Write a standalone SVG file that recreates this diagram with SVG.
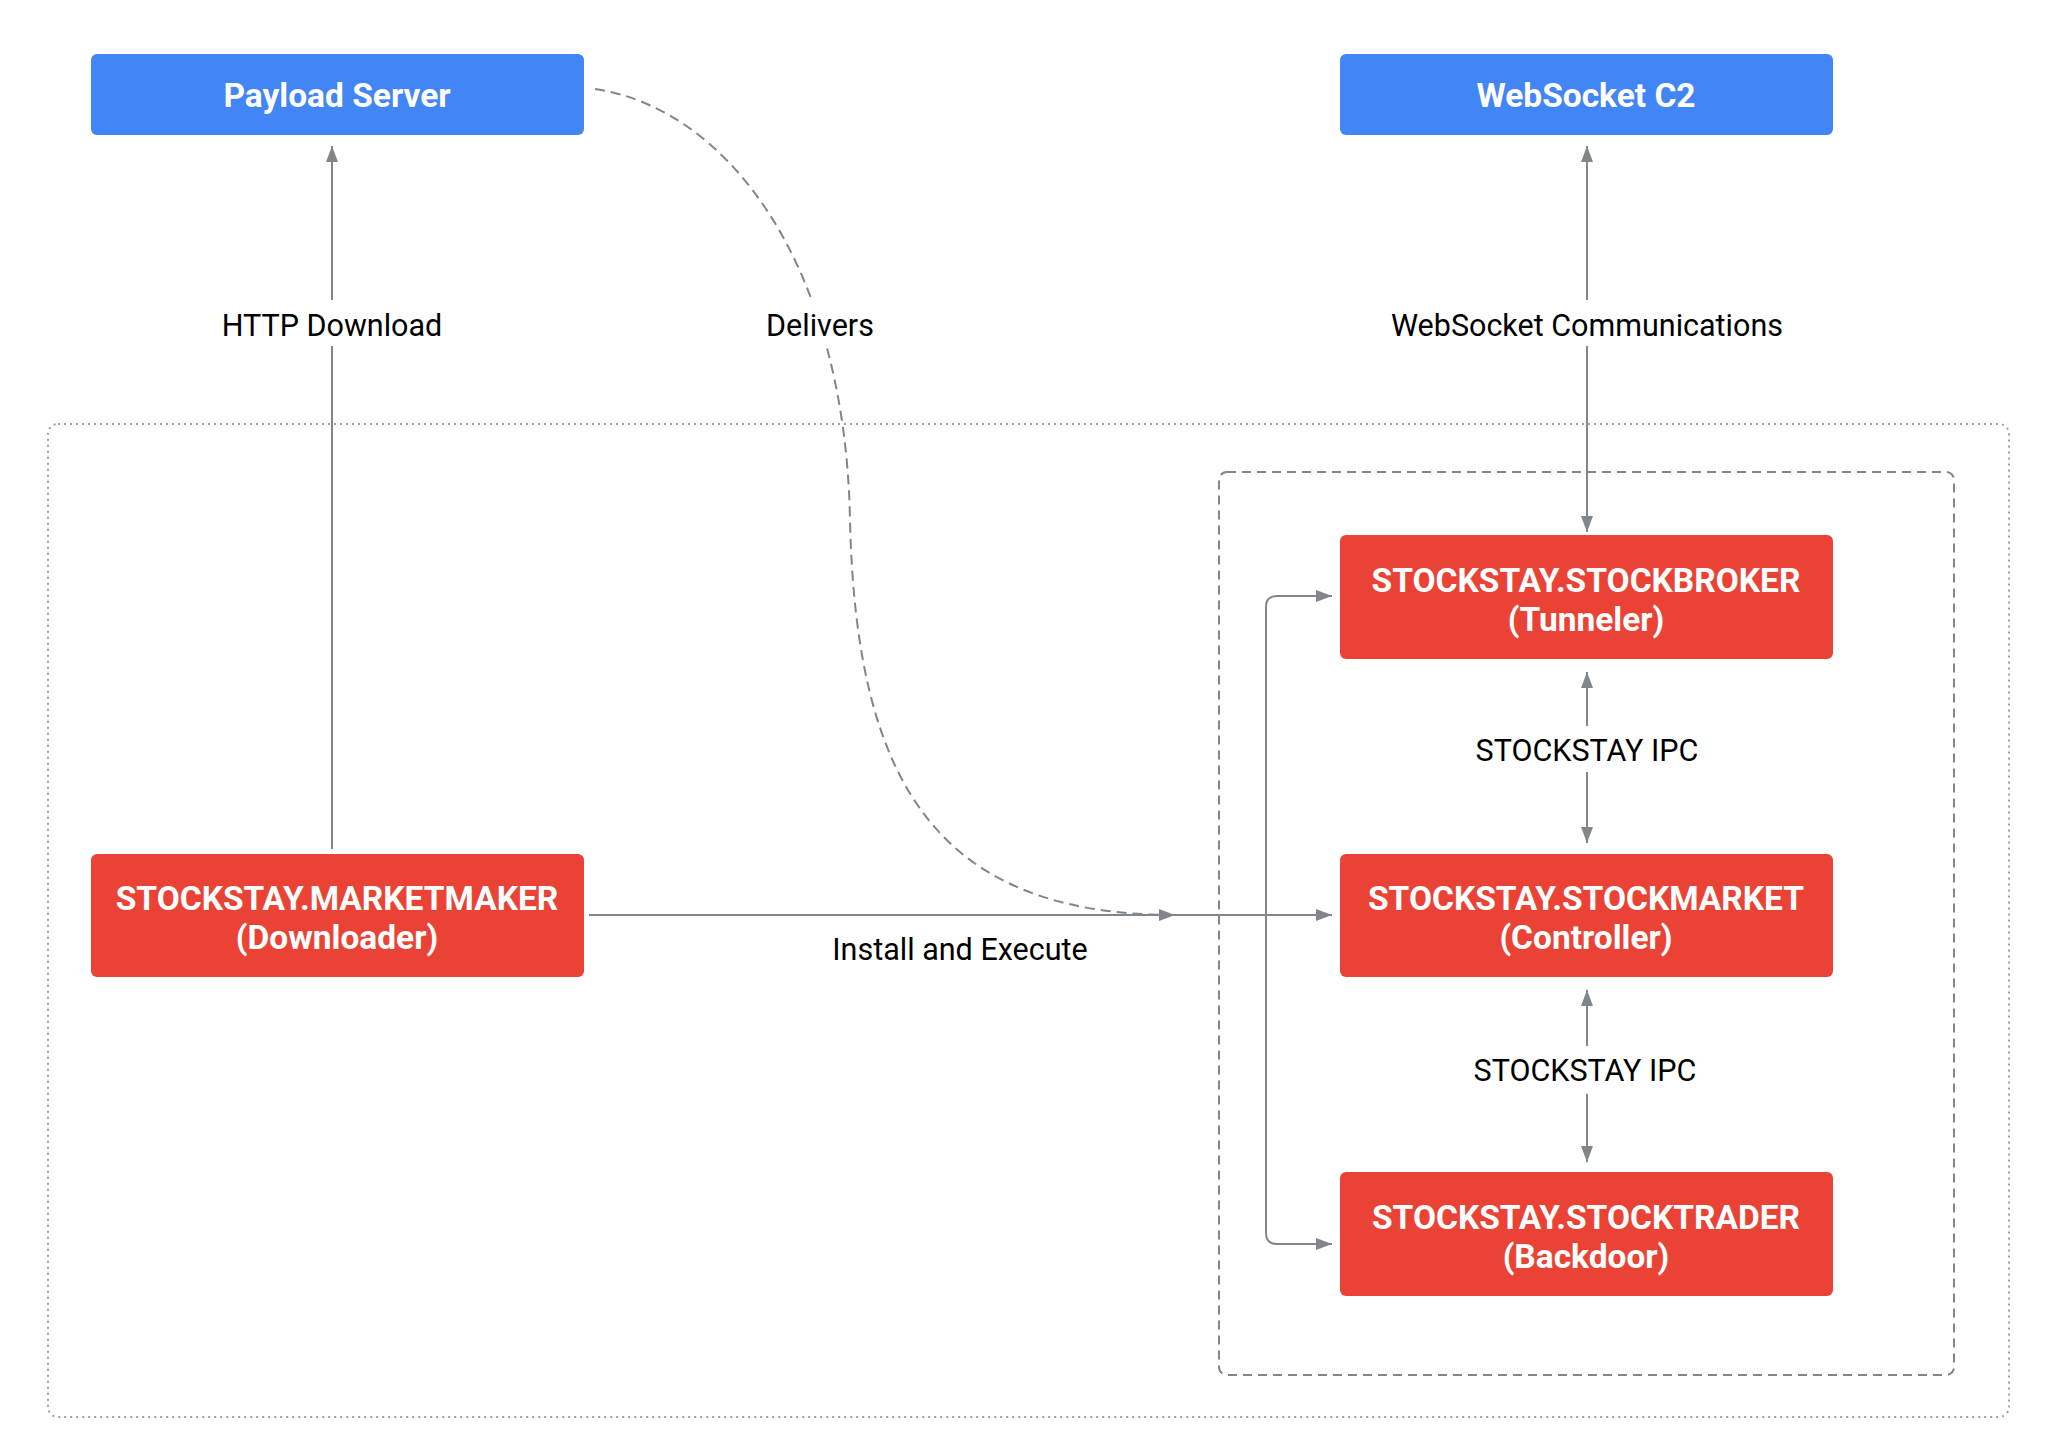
<svg xmlns="http://www.w3.org/2000/svg" width="2048" height="1454" viewBox="0 0 2048 1454">
<style>
  .blue { fill: #4285F4; }
  .red { fill: #EA4335; }
  .ntext { font-family: Roboto, "Liberation Sans", sans-serif; font-weight: 700; font-size: 33.5px; fill: #FFFFFF; text-anchor: middle; }
  .label { font-family: Roboto, "Liberation Sans", sans-serif; font-weight: 400; font-size: 30.5px; fill: #000000; text-anchor: middle; }
  .conn { fill: none; stroke: #80868B; stroke-width: 2; }
  .dash { stroke-dasharray: 10 6; }
  .outer { fill: none; stroke: #9AA0A6; stroke-width: 2; stroke-dasharray: 2 4; }
  .inner { fill: none; stroke: #80868B; stroke-width: 2; stroke-dasharray: 9 6; }
</style>
<defs>
  <marker id="arrow" viewBox="0 0 16 12" refX="16" refY="6" markerWidth="16" markerHeight="12" markerUnits="userSpaceOnUse" orient="auto-start-reverse">
    <path d="M0,0 L16,6 L0,12 Z" fill="#80868B"/>
  </marker>
  <mask id="gaps" maskUnits="userSpaceOnUse" x="0" y="0" width="2048" height="1454">
    <rect x="0" y="0" width="2048" height="1454" fill="#fff"/>
    <rect x="310" y="300" width="44" height="46" fill="#000"/>
    <rect x="790" y="300" width="60" height="46" fill="#000"/>
    <rect x="1565" y="300" width="44" height="46" fill="#000"/>
    <rect x="1565" y="726" width="44" height="46" fill="#000"/>
    <rect x="1565" y="1046" width="44" height="48" fill="#000"/>
  </mask>
</defs>
<rect x="0" y="0" width="2048" height="1454" fill="#FFFFFF"/>

<g id="containers">
  <rect id="outer-boundary" class="outer" x="48" y="424" width="1961" height="993" rx="10"/>
  <rect id="inner-boundary" class="inner" x="1219" y="472" width="735" height="903" rx="8"/>
</g>

<g id="connectors" mask="url(#gaps)">
  <path id="c-http" class="conn" d="M332,849 V146" marker-end="url(#arrow)"/>
  <path id="c-ws" class="conn" d="M1587,146 V532" marker-start="url(#arrow)" marker-end="url(#arrow)"/>
  <path id="c-ipc1" class="conn" d="M1587,672 V843" marker-start="url(#arrow)" marker-end="url(#arrow)"/>
  <path id="c-ipc2" class="conn" d="M1587,990 V1162" marker-start="url(#arrow)" marker-end="url(#arrow)"/>
  <path id="c-install" class="conn" d="M589,915 H1332" marker-end="url(#arrow)"/>
  <path id="c-bracket" class="conn" d="M1332,596 H1277 Q1266,596 1266,607 V1233 Q1266,1244 1277,1244 H1332" marker-start="url(#arrow)" marker-end="url(#arrow)"/>
  <path id="c-delivers" class="conn dash" d="M595,89 C725,108 845,260 850,520 C856,780 935,915 1175,915" marker-end="url(#arrow)"/>
</g>

<g id="labels">
  <text class="label" x="332" y="336">HTTP Download</text>
  <text class="label" x="820" y="336">Delivers</text>
  <text class="label" x="1587" y="336">WebSocket Communications</text>
  <text class="label" x="1587" y="761">STOCKSTAY IPC</text>
  <text class="label" x="1585" y="1081">STOCKSTAY IPC</text>
  <text class="label" x="960" y="960">Install and Execute</text>
</g>

<g id="payload-server">
  <rect class="blue" x="91" y="54" width="493" height="81" rx="6"/>
  <text class="ntext" x="337" y="107">Payload Server</text>
</g>
<g id="websocket-c2">
  <rect class="blue" x="1340" y="54" width="493" height="81" rx="6"/>
  <text class="ntext" x="1586" y="107">WebSocket C2</text>
</g>
<g id="marketmaker">
  <rect class="red" x="91" y="854" width="493" height="123" rx="6"/>
  <text class="ntext" x="337" y="910">STOCKSTAY.MARKETMAKER</text>
  <text class="ntext" x="337" y="949">(Downloader)</text>
</g>
<g id="stockbroker">
  <rect class="red" x="1340" y="535" width="493" height="124" rx="6"/>
  <text class="ntext" x="1586" y="592">STOCKSTAY.STOCKBROKER</text>
  <text class="ntext" x="1586" y="631">(Tunneler)</text>
</g>
<g id="stockmarket">
  <rect class="red" x="1340" y="854" width="493" height="123" rx="6"/>
  <text class="ntext" x="1586" y="910">STOCKSTAY.STOCKMARKET</text>
  <text class="ntext" x="1586" y="949">(Controller)</text>
</g>
<g id="stocktrader">
  <rect class="red" x="1340" y="1172" width="493" height="124" rx="6"/>
  <text class="ntext" x="1586" y="1229">STOCKSTAY.STOCKTRADER</text>
  <text class="ntext" x="1586" y="1268">(Backdoor)</text>
</g>
</svg>
